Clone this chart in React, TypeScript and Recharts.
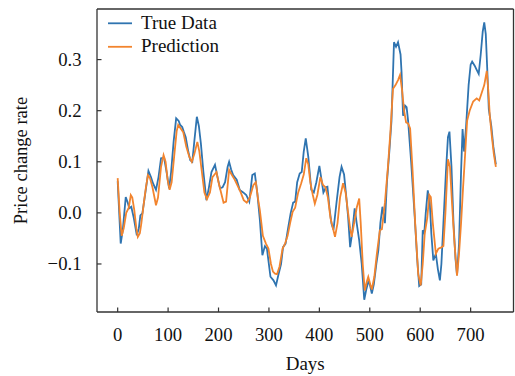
import { LineChart, Line, XAxis, YAxis, ReferenceLine } from 'recharts';

const trueDays = [
  0, 6, 10, 16, 20, 23, 27, 32, 38, 42, 45, 49, 55, 61, 66, 70, 76, 81, 86, 92,
  97, 102, 106, 111, 116, 121, 124, 128, 131, 135, 140, 144, 148, 152, 157, 161, 165, 170, 176, 181,
  186, 193, 198, 203, 208, 213, 218, 221, 225, 229, 236, 242, 249, 255, 261, 267, 272, 277, 282, 287,
  292, 296, 303, 309, 314, 319, 324, 328, 333, 338, 343, 348, 352, 356, 361, 365, 369, 373, 378, 384,
  389, 394, 400, 405, 408, 413, 416, 420, 424, 428, 434, 440, 444, 449, 454, 457, 461, 465, 470, 474,
  479, 484, 489, 493, 497, 500, 504, 508, 513, 517, 521, 525, 530, 534, 539, 543, 548, 552, 556, 561,
  563, 566, 570, 573, 576, 582, 589, 594, 598, 602, 605, 608, 611, 615, 619, 622, 626, 631, 635, 639,
  642, 646, 651, 655, 658, 662, 666, 670, 673, 677, 681, 684, 687, 691, 696, 700, 703, 708, 712, 716,
  720, 724, 727, 730, 733, 736, 741, 745, 750,
];
const trueValues = [
  0.062, -0.06, -0.035, 0.031, 0.02, 0.009, 0.012, -0.01, -0.044, -0.03, -0.005, -0.001, 0.04, 0.082, 0.07, 0.058, 0.045, 0.07, 0.107, 0.108,
  0.08, 0.048, 0.08, 0.14, 0.185, 0.18, 0.172, 0.168, 0.159, 0.148, 0.12, 0.103, 0.1, 0.14, 0.188, 0.17, 0.136, 0.08, 0.025, 0.05,
  0.08, 0.094, 0.07, 0.048, 0.05, 0.06, 0.09, 0.1, 0.085, 0.074, 0.065, 0.045, 0.04, 0.035, 0.022, 0.074, 0.077, 0.038, -0.014, -0.083,
  -0.065, -0.07, -0.125, -0.132, -0.142, -0.12, -0.1, -0.067, -0.06, -0.03, -0.001, 0.02, 0.022, 0.06, 0.077, 0.08, 0.12, 0.146, 0.11, 0.045,
  0.04, 0.06, 0.092, 0.06, 0.04, 0.05, 0.051, 0.01, -0.021, -0.033, 0.02, 0.07, 0.09, 0.075, 0.025, -0.008, -0.067, -0.04, 0.009, -0.02,
  -0.054, -0.1, -0.17, -0.15, -0.135, -0.14, -0.158, -0.14, -0.1, -0.073, -0.02, 0.012, -0.02, 0.06, 0.123, 0.18, 0.334, 0.325, 0.334, 0.31,
  0.275, 0.19, 0.21, 0.207, 0.18, 0.1, -0.006, -0.09, -0.143, -0.14, -0.034, -0.04, 0.0, 0.044, 0.02, -0.04, -0.093, -0.08, -0.11, -0.132,
  -0.1, -0.02, 0.08, 0.148, 0.159, 0.09, -0.02, -0.09, -0.122, -0.06, 0.08, 0.164, 0.12, 0.17, 0.25, 0.29, 0.296, 0.288, 0.28, 0.272,
  0.31, 0.355, 0.373, 0.35, 0.28, 0.203, 0.17, 0.13, 0.095,
];

const predDays = [
  0, 4, 8, 12, 17, 22, 26, 29, 33, 37, 40, 44, 47, 52, 56, 60, 64, 69, 73, 76,
  80, 86, 91, 95, 99, 103, 107, 112, 117, 120, 125, 130, 136, 142, 147, 152, 158, 162, 167, 172,
  177, 183, 188, 196, 200, 205, 210, 215, 221, 226, 232, 238, 244, 250, 256, 262, 269, 274, 278, 282,
  288, 294, 299, 304, 308, 312, 316, 321, 327, 332, 337, 342, 347, 352, 358, 364, 369, 374, 378, 382,
  387, 391, 396, 402, 407, 412, 417, 422, 427, 431, 436, 441, 447, 452, 457, 461, 464, 469, 474, 479,
  482, 486, 490, 494, 497, 501, 504, 509, 514, 520, 524, 530, 536, 541, 546, 551, 556, 560, 564, 568,
  572, 576, 580, 585, 590, 596, 601, 605, 609, 614, 618, 621, 625, 631, 636, 641, 646, 650, 655, 659,
  663, 668, 673, 677, 681, 685, 688, 693, 698, 705, 712, 717, 722, 727, 732, 735, 738, 742, 746, 750,
];
const predValues = [
  0.068, 0.0, -0.045, -0.03, 0.0, 0.01, 0.035, 0.03, 0.005, -0.03, -0.047, -0.04, -0.02, 0.02, 0.05, 0.074, 0.068, 0.05, 0.03, 0.015,
  0.03, 0.09, 0.113, 0.1, 0.065, 0.045, 0.06, 0.11, 0.16, 0.172, 0.165, 0.158, 0.13, 0.11, 0.1, 0.115, 0.139, 0.12, 0.08, 0.04,
  0.027, 0.04, 0.07, 0.08, 0.06, 0.04, 0.02, 0.022, 0.084, 0.075, 0.065, 0.053, 0.04, 0.025, 0.02, 0.03, 0.054, 0.06, 0.03, 0.005,
  -0.045, -0.06, -0.07, -0.1, -0.115, -0.119, -0.12, -0.105, -0.07, -0.06, -0.045, -0.02, 0.002, 0.01, 0.04, 0.058, 0.075, 0.107, 0.095, 0.06,
  0.035, 0.018, 0.035, 0.07, 0.055, 0.05, 0.03, -0.01, -0.03, -0.047, -0.02, 0.03, 0.058, 0.04, 0.0, -0.03, -0.047, -0.02, 0.01, 0.028,
  -0.02, -0.1, -0.152, -0.135, -0.125, -0.14, -0.15, -0.125, -0.08, -0.034, -0.032, 0.02, 0.09, 0.16, 0.243, 0.25, 0.26, 0.27, 0.24, 0.2,
  0.177, 0.175, 0.165, 0.08, -0.02, -0.12, -0.142, -0.1, -0.04, -0.01, 0.035, 0.031, -0.02, -0.08, -0.07, -0.068, -0.065, 0.0, 0.105, 0.09,
  0.02, -0.06, -0.123, -0.08, -0.02, 0.05, 0.097, 0.18, 0.2, 0.218, 0.224, 0.22, 0.235, 0.25, 0.278, 0.24, 0.19, 0.15, 0.115, 0.09,
];

const seriesNames = ['True Data', 'Prediction'];
const seriesColors = ['#2f74b0', '#f2842e'];
const xTicks = [0, 100, 200, 300, 400, 500, 600, 700];
const yTicks = [-0.1, 0.0, 0.1, 0.2, 0.3];
const xDomain = [-41, 785];
const yDomain = [-0.194, 0.399];

const FONT = '"Liberation Serif", "Times New Roman", serif';
const AXIS = '#333333';

const trueData = trueDays.map((d, i) => ({ day: d, value: trueValues[i] }));
const predData = predDays.map((d, i) => ({ day: d, value: predValues[i] }));

function XTick({ x, y, payload }: any) {
  return (
    <g>
      <line x1={x} x2={x} y1={y} y2={y - 4.5} stroke={AXIS} strokeWidth={1.2} />
      <text x={x} y={y + 29.3} textAnchor="middle" fontFamily={FONT} fontSize={18.7} fill="#111">
        {payload.value}
      </text>
    </g>
  );
}

function YTick({ x, y, payload }: any) {
  const label = payload.value.toFixed(1).replace('-', '\u2212');
  return (
    <g>
      <line x1={x} x2={x + 4.5} y1={y} y2={y} stroke={AXIS} strokeWidth={1.2} />
      <text x={x - 15.5} y={y + 6.3} textAnchor="end" fontFamily={FONT} fontSize={18.7} fill="#111">
        {label}
      </text>
    </g>
  );
}

export default function App() {
  return (
    <div style={{ position: 'absolute', left: 0, top: 0, width: 515, height: 376, background: '#fff' }}>
      <LineChart width={515} height={376} margin={{ top: 9, right: 1.5, left: 0, bottom: 0 }}>
        <XAxis
          dataKey="day"
          type="number"
          domain={xDomain}
          ticks={xTicks}
          allowDataOverflow
          height={64}
          tickSize={0}
          tickMargin={0}
          tick={<XTick />}
          axisLine={{ stroke: AXIS, strokeWidth: 1.3 }}
          tickLine={false}
          label={({ viewBox }: any) => (
            <text
              x={viewBox.x + viewBox.width / 2}
              y={viewBox.y + 58}
              textAnchor="middle"
              fontFamily={FONT}
              fontSize={19}
              fill="#111"
            >
              Days
            </text>
          )}
        />
        <YAxis
          type="number"
          domain={yDomain}
          ticks={yTicks}
          allowDataOverflow
          width={97}
          tickSize={0}
          tickMargin={0}
          tick={<YTick />}
          axisLine={{ stroke: AXIS, strokeWidth: 1.3 }}
          tickLine={false}
          label={({ viewBox }: any) => {
            const cx = viewBox.x + 20.5;
            const cy = viewBox.y + viewBox.height / 2;
            return (
              <text
                x={cx}
                y={cy}
                transform={`rotate(-90 ${cx} ${cy})`}
                textAnchor="middle"
                dominantBaseline="central"
                fontFamily={FONT}
                fontSize={18.5}
                fill="#111"
              >
                Price change rate
              </text>
            );
          }}
        />
        {/* top and right spines of the axes frame */}
        <ReferenceLine y={yDomain[1]} stroke={AXIS} strokeWidth={1.3} ifOverflow="visible" />
        <ReferenceLine x={xDomain[1]} stroke={AXIS} strokeWidth={1.3} ifOverflow="visible" />
        <Line
          data={trueData}
          dataKey="value"
          name={seriesNames[0]}
          type="linear"
          stroke={seriesColors[0]}
          strokeWidth={1.8}
          dot={false}
          isAnimationActive={false}
        />
        <Line
          data={predData}
          dataKey="value"
          name={seriesNames[1]}
          type="linear"
          stroke={seriesColors[1]}
          strokeWidth={1.8}
          dot={false}
          isAnimationActive={false}
        />
      </LineChart>
      <svg
        width={140}
        height={60}
        style={{ position: 'absolute', left: 100, top: 0, pointerEvents: 'none' }}
      >
        {seriesNames.map((name, i) => {
          const ly = 23.3 + i * 23.5;
          return (
            <g key={name}>
              <line x1={8} x2={32} y1={ly} y2={ly} stroke={seriesColors[i]} strokeWidth={1.8} />
              <text x={41} y={ly + 5.5} fontFamily={FONT} fontSize={19} fill="#111">
                {name}
              </text>
            </g>
          );
        })}
      </svg>
    </div>
  );
}
